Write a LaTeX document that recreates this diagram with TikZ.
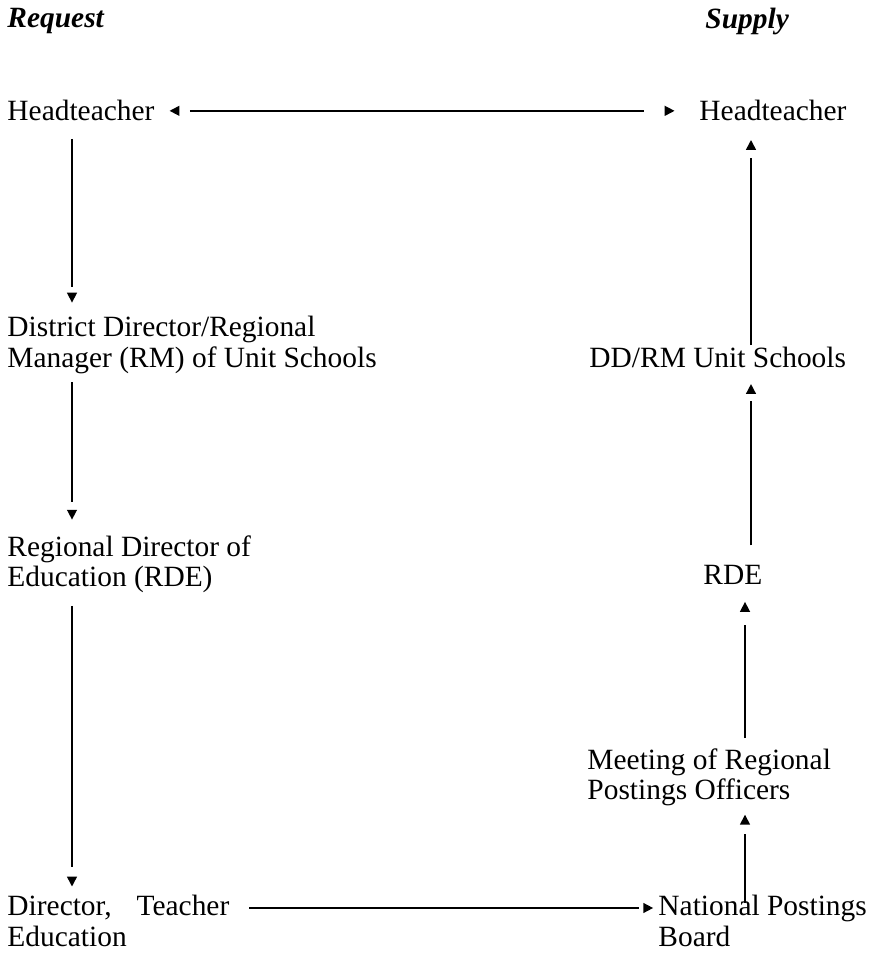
\documentclass[tikz,border=0pt]{standalone}
\usepackage{fontspec}
\setmainfont{Liberation Serif}
\usetikzlibrary{arrows.meta}
% filled triangle that stands off the end of its line (inset = the gap)
\pgfdeclarearrow{
  name = Gap Tri,
  cache = false,
  parameters = {\the\pgfarrowlength,\the\pgfarrowwidth,\the\pgfarrowinset},
  setup code = {
    \dimen0=\pgfarrowlength
    \advance\dimen0 by \pgfarrowinset
    \pgfarrowssettipend{0pt}
    \pgfarrowssetbackend{-\dimen0}
    \pgfarrowssetlineend{-\dimen0}
    \pgfarrowssavethe\pgfarrowlength
    \pgfarrowssavethe\pgfarrowwidth
  },
  drawing code = {
    \pgfpathmoveto{\pgfpointorigin}
    \pgfpathlineto{\pgfpoint{-\pgfarrowlength}{.5\pgfarrowwidth}}
    \pgfpathlineto{\pgfpoint{-\pgfarrowlength}{-.5\pgfarrowwidth}}
    \pgfpathclose
    \pgfusepathqfill
  },
  defaults = {length = 4pt, width = 4.2pt, inset = 3pt}
}
\tikzset{
  post/.style = {anchor=north west, inner sep=0pt, align=left,
                 font=\fontsize{12}{12.5}\selectfont},
  heading/.style = {post, font=\fontsize{12}{12.5}\selectfont\bfseries\itshape},
  flow/.style = {line width=0.7pt, -{Gap Tri[inset=#1]}},
  flow/.default = 3pt,
  both/.style = {line width=0.7pt, {Gap Tri[inset=4.3pt]}-{Gap Tri[inset=8.3pt]}},
}

\begin{document}
\begin{tikzpicture}[x=0.408pt,y=-0.408pt]
  \useasboundingbox (0,0) rectangle (881,961);
  \coordinate (colL) at (72,0);
  \coordinate (colR) at (751,0);
  \coordinate (colRlow) at (745,0);
  % headings
  \node[heading] (req) at (7,8) {Request};
  \node[heading] (sup) at (705,8) {Supply};
  % request side
  \node[post] (hL) at (7,100) {Headteacher};
  \node[post] (ddL) at (7,316) {District Director/Regional\\Manager (RM) of Unit Schools};
  \node[post] (rdL) at (7,535) {Regional Director of\\Education (RDE)};
  \node[post] (dtL) at (7,895) {Director,\hspace{0.85em}Teacher\\Education};
  % supply side
  \node[post] (hR) at (699,100) {Headteacher};
  \node[post] (ddR) at (589,347) {DD/RM Unit Schools};
  \node[post] (rdeR) at (703,565) {RDE};
  \node[post] (mtR) at (587,748) {Meeting of Regional\\Postings Officers};
  \node[post] (npR) at (658,895) {National Postings\\Board};
  % arrows down
  \draw[flow=2.2pt,shorten <=7pt,shorten >=5.5pt] (hL.south -| colL) -- (ddL.north -| colL);
  \draw[flow,shorten <=3.3pt,shorten >=6.3pt] (ddL.south -| colL) -- (rdL.north -| colL);
  \draw[flow=3.8pt,shorten <=5pt,shorten >=3.5pt] (rdL.south -| colL) -- (dtL.north -| colL);
  % arrows up
  \draw[flow=4pt,shorten <=-3.3pt,shorten >=3.3pt] (npR.north -| colRlow) -- (mtR.south -| colRlow);
  \draw[flow=5.3pt,shorten <=4pt,shorten >=6.8pt] (mtR.north -| colRlow) -- (rdeR.south -| colRlow);
  \draw[flow,shorten <=8pt,shorten >=6.3pt] (rdeR.north -| colR) -- (ddR.south -| colR);
  \draw[flow=3.5pt,shorten <=0.8pt,shorten >=7.5pt] (ddR.north -| colR) -- (hR.south -| colR);
  % across
  \draw[both,shorten <=6pt,shorten >=10pt] (hL.east) -- (hR.west);
  \draw[flow=1.8pt,shorten <=8pt,shorten >=2pt]
    ([yshift=-5.3pt]dtL.north east) -- ([yshift=-5.3pt]npR.north west);
\end{tikzpicture}
\end{document}
